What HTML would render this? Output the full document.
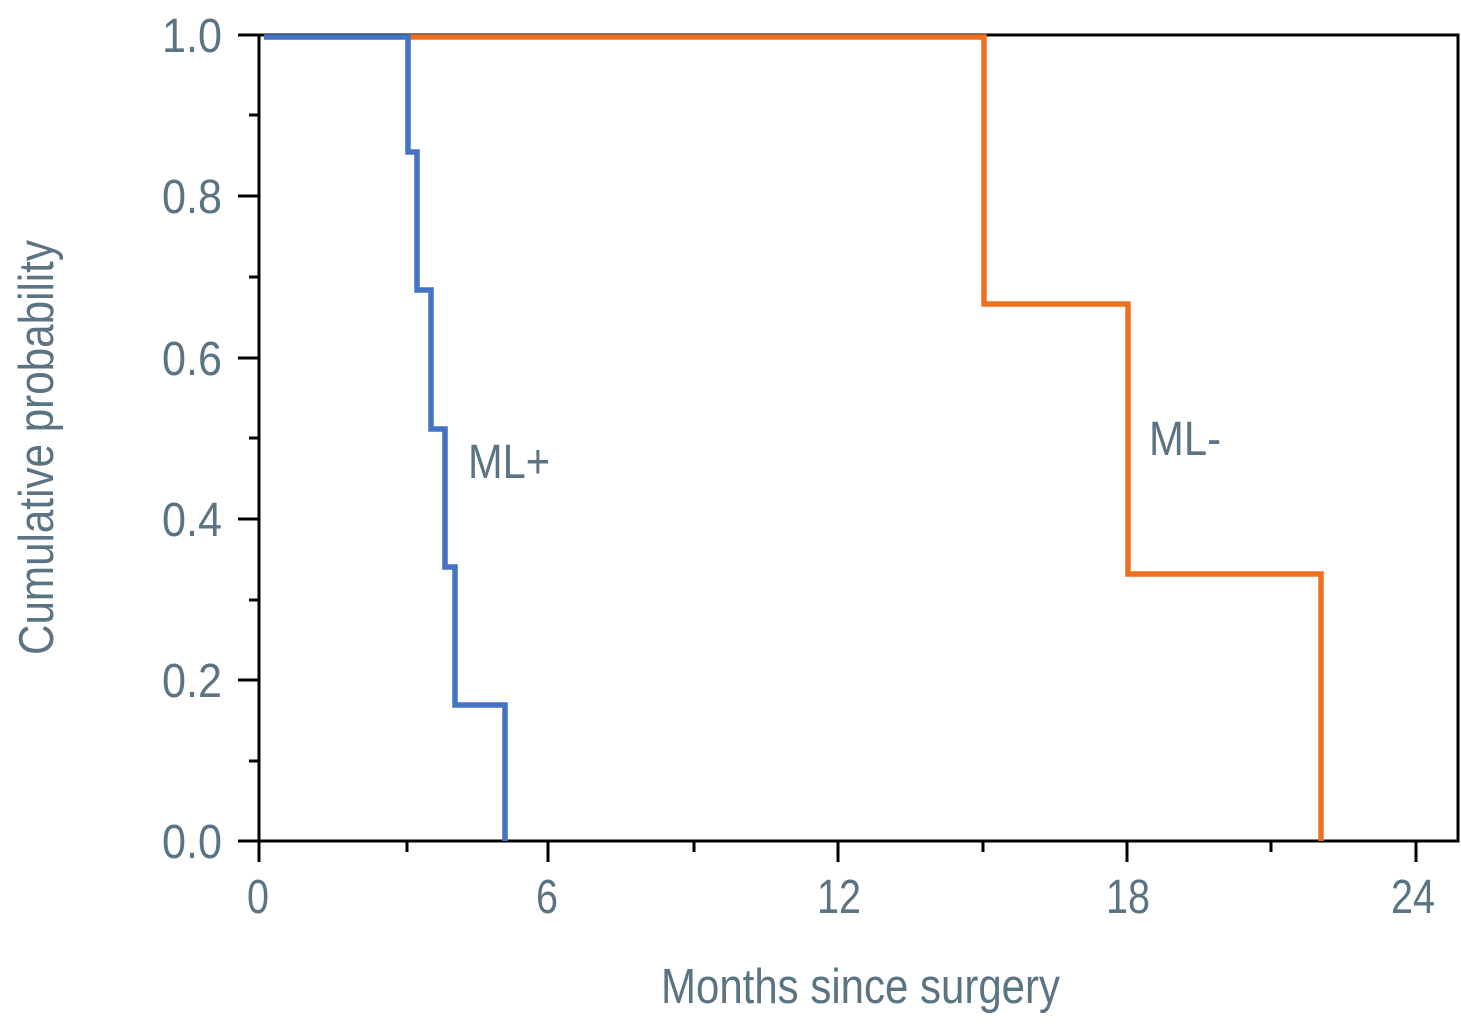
<!DOCTYPE html>
<html><head><meta charset="utf-8"><style>html,body{margin:0;padding:0;background:#fff;}svg{display:block}</style></head>
<body>
<svg width="1461" height="1024" xmlns="http://www.w3.org/2000/svg" font-family="Liberation Sans, sans-serif" fill="#5a7484">
<rect x="0" y="0" width="1461" height="1024" fill="#fff"/>
<g stroke="#000" stroke-width="3" fill="none">
<rect x="259" y="35" width="1199" height="806"/>
<line x1="238" y1="35" x2="259" y2="35"/><line x1="238" y1="196" x2="259" y2="196"/><line x1="238" y1="358" x2="259" y2="358"/><line x1="238" y1="519" x2="259" y2="519"/><line x1="238" y1="680" x2="259" y2="680"/><line x1="238" y1="841" x2="259" y2="841"/>
<line x1="249" y1="115" x2="259" y2="115"/><line x1="249" y1="277" x2="259" y2="277"/><line x1="249" y1="438" x2="259" y2="438"/><line x1="249" y1="600" x2="259" y2="600"/><line x1="249" y1="761" x2="259" y2="761"/>
<line x1="259" y1="841" x2="259" y2="862"/><line x1="548" y1="841" x2="548" y2="862"/><line x1="838" y1="841" x2="838" y2="862"/><line x1="1127" y1="841" x2="1127" y2="862"/><line x1="1416" y1="841" x2="1416" y2="862"/>
<line x1="407" y1="841" x2="407" y2="852"/><line x1="694" y1="841" x2="694" y2="852"/><line x1="983" y1="841" x2="983" y2="852"/><line x1="1271" y1="841" x2="1271" y2="852"/>
</g>
<polyline fill="none" stroke="#ef7021" stroke-width="5.5" points="408,37 984,37 984,304 1128,304 1128,574 1321,574 1321,841"/>
<polyline fill="none" stroke="#4472c4" stroke-width="5.5" points="264,37 408,37 408,152 417,152 417,290 431,290 431,429 445,429 445,567 455,567 455,705 505,705 505,841"/>
<g font-size="48" text-anchor="end">
<text x="222" y="52" textLength="60" lengthAdjust="spacingAndGlyphs">1.0</text>
<text x="222" y="213" textLength="60" lengthAdjust="spacingAndGlyphs">0.8</text>
<text x="222" y="375" textLength="60" lengthAdjust="spacingAndGlyphs">0.6</text>
<text x="222" y="536" textLength="60" lengthAdjust="spacingAndGlyphs">0.4</text>
<text x="222" y="697" textLength="60" lengthAdjust="spacingAndGlyphs">0.2</text>
<text x="222" y="858" textLength="60" lengthAdjust="spacingAndGlyphs">0.0</text>
</g>
<g font-size="48" text-anchor="middle">
<text x="258" y="913" textLength="22" lengthAdjust="spacingAndGlyphs">0</text><text x="547" y="913" textLength="22" lengthAdjust="spacingAndGlyphs">6</text><text x="839" y="913" textLength="44" lengthAdjust="spacingAndGlyphs">12</text><text x="1128" y="913" textLength="44" lengthAdjust="spacingAndGlyphs">18</text><text x="1413" y="913" textLength="44" lengthAdjust="spacingAndGlyphs">24</text>
</g>
<text x="661" y="1003" font-size="49" textLength="399" lengthAdjust="spacingAndGlyphs">Months since surgery</text>
<text transform="translate(53,655) rotate(-90)" font-size="49" textLength="415" lengthAdjust="spacingAndGlyphs">Cumulative probability</text>
<text x="468" y="478" font-size="48" textLength="82" lengthAdjust="spacingAndGlyphs">ML+</text>
<text x="1149" y="455" font-size="48" textLength="72" lengthAdjust="spacingAndGlyphs">ML-</text>
</svg>
</body></html>
